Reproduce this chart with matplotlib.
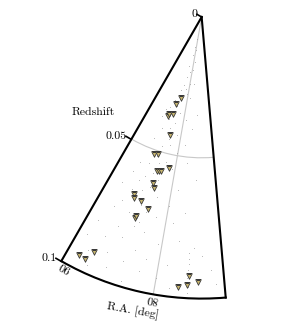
import matplotlib
matplotlib.use("Agg")
import matplotlib.pyplot
import matplotlib.path
import numpy

# triangles (R.A. in deg, redshift)
source_ra = [82.3, 83.4, 83.4, 84.5, 84.4, 82.6, 84.6, 83.9, 83.1, 82.8, 82.5, 81.2,
	83.2, 82.8, 85.5, 85.3, 84.2, 82.9, 84.2, 84.2, 88.65, 87.9, 87.35, 76.5,
	76.6, 77.6, 75.4]
source_z = [0.0296, 0.0321, 0.0358, 0.0370, 0.0363, 0.0435, 0.0516, 0.0512, 0.0570, 0.0568, 0.0566, 0.0550,
	0.0615, 0.0631, 0.0673, 0.0687, 0.0688, 0.0708, 0.0752, 0.0744, 0.0950, 0.0953, 0.0917, 0.0920,
	0.0952, 0.0961, 0.0940]

# faint background galaxies (R.A. in deg, redshift)
galaxy_ra = [81.0, 80.2, 81.5, 79.5, 82.0, 80.8, 81.8, 80.0, 82.5, 81.2, 83.0, 80.5, 79.0, 82.0, 84.0, 78.5, 79.8, 81.4,
	83.8, 82.9, 84.6, 85.5, 83.2, 81.5, 84.0, 82.2, 86.0, 79.5, 83.0, 84.8, 81.0, 82.5, 77.5, 78.8, 85.8, 83.6, 80.2, 76.5, 82.0,
	84.0, 83.2, 85.0, 82.0, 86.5, 80.5, 78.0, 83.8, 84.8, 82.6, 87.0, 79.0, 85.6, 83.5, 76.0, 84.5, 86.0, 82.0, 88.0, 80.0,
	85.0, 84.0, 83.0, 86.8, 81.5, 77.5, 85.2, 79.0, 87.5, 83.5,
	84.0, 82.5, 86.0, 88.5, 80.5, 78.0, 85.0, 87.0, 83.0, 76.0, 89.0, 81.5, 79.0, 86.0, 84.0, 88.0, 82.0, 80.0, 85.5, 87.5,
	83.5, 78.5, 74.0, 75.0, 73.5,
	76.6, 76.6, 76.5, 76.6, 76.6, 76.5, 76.6, 76.6]
galaxy_z = [0.008, 0.012, 0.014, 0.016, 0.018, 0.020, 0.022, 0.024, 0.025, 0.026, 0.027, 0.028, 0.029, 0.030, 0.031, 0.024, 0.019, 0.011,
	0.032, 0.033, 0.034, 0.035, 0.036, 0.035, 0.038, 0.039, 0.038, 0.037, 0.041, 0.042, 0.043, 0.045, 0.040, 0.046, 0.046, 0.048, 0.049, 0.035, 0.047,
	0.052, 0.054, 0.055, 0.053, 0.056, 0.055, 0.052, 0.058, 0.060, 0.060, 0.060, 0.062, 0.062, 0.063, 0.058, 0.065, 0.066, 0.066, 0.065, 0.068,
	0.068, 0.070, 0.072, 0.071, 0.073, 0.070, 0.074, 0.074, 0.074, 0.076,
	0.078, 0.079, 0.080, 0.081, 0.082, 0.080, 0.083, 0.085, 0.086, 0.082, 0.087, 0.088, 0.089, 0.090, 0.091, 0.092, 0.093, 0.094, 0.095, 0.097,
	0.098, 0.097, 0.090, 0.085, 0.095,
	0.084, 0.086, 0.088, 0.090, 0.093, 0.096, 0.098, 0.100]

ra_ticks = [90, 80]
ra_tick_labels = ["90", "80"]
z_ticks = [0, 0.05, 0.1]
z_tick_labels = ["0", "0.05", "0.1"]

ra_min = 72.6
ra_max = 90.0
angle_scale = 2.0

def to_theta(ra):
	return numpy.radians(angle_scale * numpy.asarray(ra, dtype = float))

font = "cmr10"
size = 8.5

figure = matplotlib.pyplot.figure(figsize = (2.96, 3.29), dpi = 100)
# the wedge is fitted into a square box: 283 px is the wedge height
axes = figure.add_axes([2 / 296, 1 - 300 / 329, 283 / 296, 283 / 329], projection = "polar")

axes.set_theta_direction(-1)
axes.set_theta_offset(numpy.radians(60.1))
axes.set_thetamin(angle_scale * ra_min)
axes.set_thetamax(angle_scale * ra_max)
axes.set_rlim(0, 0.1)

axes.scatter(to_theta(galaxy_ra), galaxy_z, s = 0.5, color = "#a0a0a0", alpha = 0.6, linewidths = 0, zorder = 2)
axes.scatter(to_theta(source_ra), source_z, marker = "v", s = 16, facecolor = "#c8b66e", edgecolor = "#3a3a3a",
	linewidths = 0.6, zorder = 3)

axes.set_xticks(to_theta(ra_ticks))
axes.set_xticklabels([])
axes.set_yticks(z_ticks)
axes.set_yticklabels([])
axes.grid(True, color = "#c8c8c8", linewidth = 0.8)
for spine in axes.spines.values():
	spine.set_linewidth(1.5)
	spine.set_color("black")
axes.tick_params(axis = "x", direction = "in", length = 5, width = 1.2, color = "black")
axes.tick_params(axis = "y", length = 0)

# radial ticks: short strokes sticking out of the left edge
tick_path = matplotlib.path.Path([(0, 0), (-0.866, 0.5)])
axes.plot(to_theta([ra_max] * len(z_ticks)), z_ticks, linestyle = "none", marker = tick_path, markersize = 9,
	markeredgewidth = 1.2, color = "black", clip_on = False, zorder = 4)

# tick labels drawn by hand so that they follow the (upside-down) look of the original
label_shift = [-0.6, 0.0]
for ra, shift, label, rotation, radius in zip(ra_ticks, label_shift, ra_tick_labels, [150, 170], [0.101, 0.1016]):
	axes.text(to_theta(ra + shift), radius, label, rotation = rotation, rotation_mode = "anchor", family = font,
		ha = "center", va = "center", fontsize = size, clip_on = False)
for z, label in zip(z_ticks, z_tick_labels):
	axes.annotate(label, xy = (to_theta(ra_max), z), xytext = (-4.5, 2.5), textcoords = "offset pixels",
		ha = "right", va = "center", family = font, fontsize = size, annotation_clip = False)

axes.text(to_theta(81.6), 0.1072, "R.A. [deg]", rotation = -10, rotation_mode = "anchor", family = font,
	ha = "center", va = "center", fontsize = size, clip_on = False)
figure.text(0.314, 0.660, "Redshift", ha = "center", va = "center", family = font, fontsize = size)

figure.savefig("out.png", dpi = 100)
